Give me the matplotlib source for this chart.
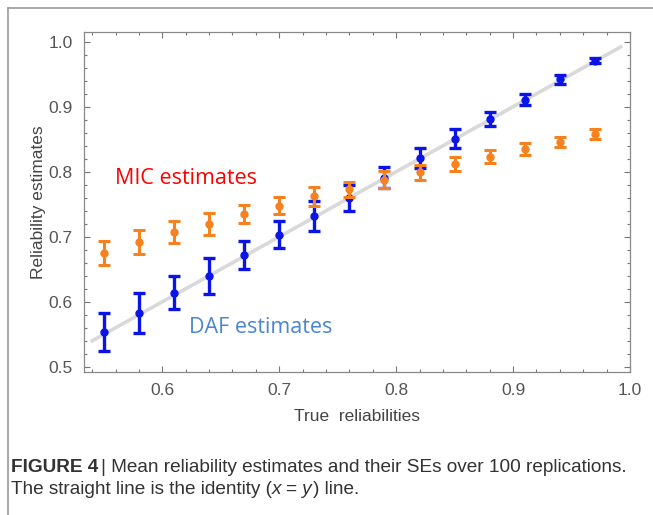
import matplotlib
matplotlib.use("Agg")
import matplotlib.pyplot as plt
from matplotlib.ticker import MultipleLocator, FormatStrFormatter
from matplotlib.lines import Line2D

# true reliabilities (x)
true_rel = [0.55, 0.58, 0.61, 0.64, 0.67, 0.70, 0.73, 0.76,
            0.79, 0.82, 0.85, 0.88, 0.91, 0.94, 0.97]

# DAF estimates and SEs
daf_mean = [0.553, 0.583, 0.614, 0.640, 0.672, 0.703, 0.732, 0.760,
            0.791, 0.821, 0.851, 0.881, 0.911, 0.942, 0.971]
daf_se = [0.029, 0.031, 0.025, 0.028, 0.022, 0.021, 0.023, 0.020,
          0.016, 0.015, 0.015, 0.011, 0.009, 0.007, 0.004]

# MIC estimates and SEs
mic_mean = [0.675, 0.692, 0.707, 0.720, 0.735, 0.748, 0.762, 0.773,
            0.788, 0.799, 0.812, 0.823, 0.835, 0.846, 0.858]
mic_se = [0.018, 0.019, 0.017, 0.017, 0.014, 0.013, 0.014, 0.012,
          0.013, 0.011, 0.011, 0.010, 0.009, 0.008, 0.008]

identity = [0.54, 0.992]

font = ['Liberation Sans', 'DejaVu Sans']
gray = '#555555'
W, H = 653, 515

fig = plt.figure(figsize=(W / 100, H / 100), dpi=100)
ax = fig.add_axes([84 / W, 1 - 372 / H, 546 / W, 340 / H])

# identity line
ax.plot(identity, identity, color='#d9d9d9', lw=2.6, zorder=1)

# DAF (blue) underneath, MIC (orange) drawn on top
ax.errorbar(true_rel, daf_mean, yerr=daf_se, fmt='o', color='#0a14e6',
            ms=5, elinewidth=2.4, capsize=4.5, capthick=2.4, zorder=2)
ax.errorbar(true_rel, mic_mean, yerr=mic_se, fmt='o', color='#f5821f',
            ms=5, elinewidth=2.2, capsize=4, capthick=2.2, zorder=3)

ax.set_xlim(0.533, 1.0)
ax.set_ylim(0.492, 1.015)
ax.xaxis.set_major_locator(MultipleLocator(0.1))
ax.xaxis.set_minor_locator(MultipleLocator(0.02))
ax.yaxis.set_major_locator(MultipleLocator(0.1))
ax.yaxis.set_minor_locator(MultipleLocator(0.02))
ax.xaxis.set_major_formatter(FormatStrFormatter('%.1f'))
ax.yaxis.set_major_formatter(FormatStrFormatter('%.1f'))
ax.tick_params(which='both', direction='in', top=True, right=True,
               color='#777777', width=0.8)
ax.tick_params(which='major', length=4, labelsize=12.5, labelcolor=gray, pad=8)
ax.tick_params(which='minor', length=2.5)
for lab in ax.get_xticklabels() + ax.get_yticklabels():
    lab.set_family(font)
for sp in ax.spines.values():
    sp.set_color('#888888')
    sp.set_linewidth(0.9)

ax.set_xlabel('True  reliabilities', family=font, fontsize=12.5,
              color='#444444', labelpad=8)
ax.set_ylabel('Reliability estimates', family=font, fontsize=12.5,
              color='#444444', labelpad=2)

ax.text(0.620, 0.789, 'MIC estimates', color='#ff0000', fontsize=15.5,
        family=['Open Sans', 'DejaVu Sans'], va='center', ha='center')
ax.text(0.684, 0.561, 'DAF estimates', color='#4a86d0', fontsize=15.5,
        family=['Open Sans', 'DejaVu Sans'], va='center', ha='center')

# page frame lines
fig.add_artist(Line2D([8 / W, 8 / W], [0, 1 - 8 / H],
                      transform=fig.transFigure, color='#999999', lw=1.2))
fig.add_artist(Line2D([8 / W, 1], [1 - 8 / H, 1 - 8 / H],
                      transform=fig.transFigure, color='#999999', lw=1.2))

# caption, built piece by piece
cap_size = 13.7
cap_color = '#333333'
y1 = 1 - 467 / H
y2 = 1 - 489 / H


def put(x, y, s, **kw):
    t = fig.text(x, y, s, family=font, fontsize=cap_size, color=cap_color,
                 va='center', **kw)
    fig.canvas.draw()
    return t.get_window_extent().x1 / W


x = put(11 / W, y1, 'FIGURE 4', weight='bold')
put(x + 3 / W, y1,
    '| Mean reliability estimates and their SEs over 100 replications.')
x = put(11 / W, y2, 'The straight line is the identity (')
x = put(x, y2, 'x = y', style='italic')
put(x, y2, ') line.')

fig.savefig('out.png', dpi=100)
